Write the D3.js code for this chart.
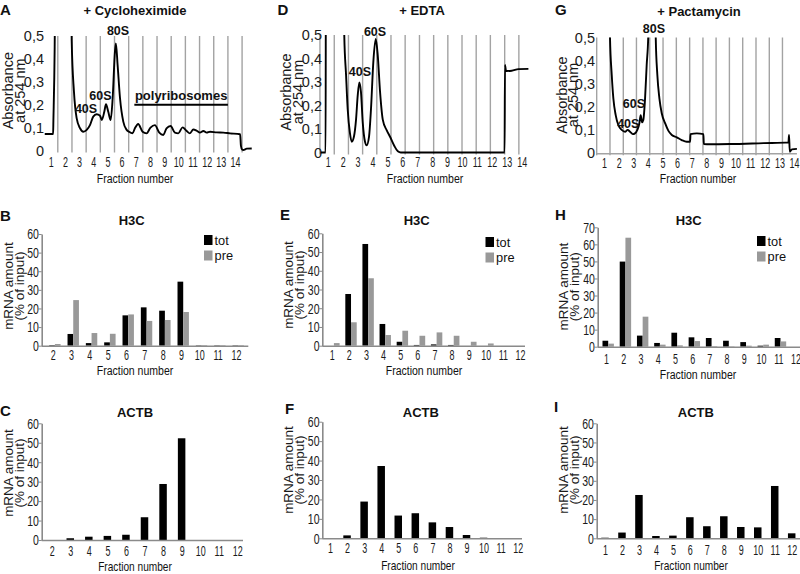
<!DOCTYPE html>
<html><head><meta charset="utf-8">
<script src="https://cdn.jsdelivr.net/npm/d3@7"></script>
<style>body{margin:0;background:#fff}svg{display:block}</style>
</head><body><svg id="c" width="800" height="574"></svg>
<script>
// ---------------- DATA ----------------
const absFractions = d3.range(1, 15);          // 1..14
const absTicks = [0, 0.1, 0.2, 0.3, 0.4, 0.5];

// Absorbance traces: [fraction position, absorbance at 254 nm]
const traceCyclo = [[0.58,0.072],[1.17,0.072],[1.19,0.13],[1.28,0.45],[1.34,0.9],[2.42,0.9],[2.48,0.48],[2.64,0.257],[2.83,0.141],[3.07,0.097],[3.30,0.082],[3.54,0.090],[3.77,0.111],[4.00,0.148],[4.24,0.158],[4.48,0.152],[4.60,0.133],[4.78,0.169],[4.90,0.202],[5.06,0.169],[5.23,0.133],[5.37,0.228],[5.53,0.431],[5.60,0.468],[5.72,0.373],[5.89,0.228],[6.12,0.126],[6.36,0.090],[6.52,0.082],[6.77,0.075],[6.94,0.097],[7.17,0.116],[7.48,0.082],[7.76,0.075],[8.04,0.100],[8.35,0.111],[8.66,0.078],[8.94,0.068],[9.17,0.097],[9.46,0.107],[9.76,0.078],[10.0,0.075],[10.3,0.101],[10.59,0.085],[10.82,0.075],[11.06,0.092],[11.29,0.087],[11.53,0.078],[11.77,0.085],[12.0,0.078],[12.24,0.082],[12.71,0.079],[13.18,0.078],[13.65,0.075],[14.36,0.071],[14.42,0.02],[14.5,0.004],[14.59,0.002],[14.83,0.008],[15.18,0.009]];
const traceEdta = [[0.53,0.0],[0.86,0.0],[0.88,0.9],[2.08,0.9],[2.11,0.5],[2.23,0.33],[2.34,0.184],[2.49,0.082],[2.61,0.046],[2.76,0.068],[2.90,0.141],[3.01,0.242],[3.12,0.298],[3.23,0.257],[3.35,0.126],[3.50,0.046],[3.61,0.031],[3.77,0.068],[3.90,0.184],[4.06,0.388],[4.22,0.483],[4.35,0.417],[4.51,0.257],[4.69,0.14],[4.95,0.095],[5.17,0.068],[5.45,0.03],[5.70,0.005],[5.90,0.0],[12.85,0.0],[12.88,0.373],[12.95,0.347],[13.33,0.348],[13.78,0.355],[14.45,0.356]];
const tracePacta = [[1.36,0.9],[1.41,0.5],[1.53,0.338],[1.64,0.237],[1.80,0.165],[1.98,0.122],[2.21,0.101],[2.44,0.093],[2.62,0.101],[2.78,0.093],[2.97,0.083],[3.12,0.086],[3.28,0.101],[3.42,0.130],[3.51,0.165],[3.60,0.134],[3.69,0.144],[3.81,0.237],[3.92,0.381],[4.03,0.51],[4.10,0.9],[4.48,0.9],[4.54,0.5],[4.65,0.338],[4.79,0.237],[4.95,0.173],[5.18,0.130],[5.40,0.098],[5.64,0.079],[5.98,0.069],[6.32,0.057],[6.66,0.050],[6.89,0.050],[6.92,0.083],[7.35,0.086],[7.80,0.083],[7.83,0.040],[8.26,0.039],[9.63,0.040],[11.91,0.044],[13.62,0.047],[13.66,0.079],[13.71,0.007],[13.86,0.017],[14.2,0.019]];

// Fraction boundaries (gradient fraction limits), in fraction units
const boundsCyclo = [1.5,2.5,3.5,4.5,5.5,6.5,7.5,8.5,9.5,10.5,11.5,12.5,13.5,14.5];
const boundsEdta = [0.48,1.44,2.39,3.34,4.29,5.24,6.19,7.15,8.10,9.05,10.0,10.95,11.9,12.86,13.81];
const boundsPacta = [0.5,1.41,2.32,3.22,4.13,5.04,5.95,6.86,7.77,8.67,9.58,10.49,11.40,12.31,13.21];

// Peak annotations: [label, fraction position, absorbance level]
const peaksCyclo = [['80S', 5.75, 0.52], ['60S', 4.51, 0.239], ['40S', 3.49, 0.182]];
const peaksEdta = [['60S', 4.17, 0.511], ['40S', 3.16, 0.343]];
const peaksPacta = [['80S', 4.42, 0.535], ['60S', 3.05, 0.213], ['40S', 2.66, 0.128]];
const polysomeSpan = [6.9, 13.5, 0.2];

// qPCR fractions
const fracCyclo = d3.range(2, 13);   // 2..12
const fracAll = d3.range(1, 13);     // 1..12

// H3C (tot / pre), % of input
const h3cTotCyclo = [0.3, 6.3, 1.4, 1.8, 16.3, 20.6, 18.8, 34.4, 0.2, 0.2, 0.2];
const h3cPreCyclo = [0.9, 24.5, 6.8, 6.4, 16.8, 13.3, 13.8, 18.1, 0.3, 0.3, 0.3];
const h3cTotEdta = [0, 27.6, 54.3, 11.6, 2.1, 0.4, 0.7, 0.4, 0, 0, 0, 0];
const h3cPreEdta = [1.4, 12.5, 36.0, 5.7, 8.0, 5.3, 7.1, 5.3, 2.1, 1.2, 0, 0];
const h3cTotPacta = [3.5, 49.9, 6.5, 2.2, 8.2, 5.5, 5.1, 3.5, 2.7, 0.6, 5.1, 0];
const h3cPrePacta = [1.8, 63.9, 17.6, 1.2, 0.8, 3.3, 0.3, 0.2, 0.6, 1.2, 3.1, 0];

// ACTB, % of input
const actbCyclo = [0, 0.9, 1.7, 2.1, 2.7, 11.7, 28.8, 52.3, 0, 0, 0];
const actbEdta = [0, 1.5, 18.9, 37.2, 11.7, 12.9, 8.2, 5.8, 1.7, 0.3, 0, 0];
const actbPacta = [0.3, 3.0, 22.6, 1.2, 1.4, 11.0, 6.3, 11.5, 5.9, 5.7, 27.3, 2.6];

const seriesNames = ['tot', 'pre'];
const seriesColors = ['#000000', '#999999'];

// ---------------- DRAWING ----------------
const svg = d3.select('#c');
const FONT = '"Liberation Sans", Arial, Helvetica, sans-serif';

function addText(g, s, x, y, o) {
  o = o || {};
  const sx = o.sx || 1;
  return g.append('text').attr('transform', `translate(${x},${y}) scale(${sx},1)`).text(s)
    .attr('font-family', FONT)
    .attr('font-size', o.size || 12)
    .attr('font-weight', o.weight || 'normal')
    .attr('text-anchor', o.anchor || 'start')
    .attr('dominant-baseline', o.baseline || 'auto')
    .attr('fill', '#111');
}
function rotLabel(g, s, bx, cy, size) {
  g.append('text').attr('transform', `translate(${bx},${cy}) scale(0.95,1) rotate(-90)`)
    .attr('text-anchor', 'middle').attr('font-family', FONT).attr('font-size', size)
    .attr('fill', '#1a1a1a').text(s);
}
function xTickLabels(g, x, vals, yc) {
  const ax = g.append('g').attr('transform', `translate(0,${yc})`)
    .call(d3.axisBottom(x).tickValues(vals).tickSize(0).tickPadding(0).tickFormat(d3.format('d')));
  ax.select('.domain').remove();
  ax.selectAll('text').attr('y', 0).attr('dy', '0.36em')
    .attr('font-family', FONT).attr('font-size', 14).attr('fill', '#1a1a1a')
    .attr('transform', 'scale(0.64,1)');
}

let clipId = 0;
function absPanel(c) {
  const g = svg.append('g');
  const x = d3.scaleLinear().domain([1, 14]).range([c.x1, c.x14]);
  const y = d3.scaleLinear().domain([0, 0.5]).range([c.y0, c.y5]);

  g.selectAll('line.bd').data(c.bounds).join('line')
    .attr('x1', d => x(d)).attr('x2', d => x(d))
    .attr('y1', y(0.5)).attr('y2', c.y0 + 2)
    .attr('stroke', '#a3a3a3').attr('stroke-width', 1.4);
  if (c.baseline) {
    g.append('line').attr('x1', x(c.bounds[0])).attr('x2', x(14.2))
      .attr('y1', c.y0 + 0.5).attr('y2', c.y0 + 0.5)
      .attr('stroke', '#a3a3a3').attr('stroke-width', 1.4);
  }

  const ya = g.append('g').attr('transform', `translate(${c.tickRight},0)`)
    .call(d3.axisLeft(y).tickValues(absTicks).tickSize(0).tickPadding(0)
      .tickFormat(d => d === 0 ? '0' : d3.format('.1f')(d).replace('.', ',')));
  ya.select('.domain').remove();
  ya.selectAll('text').attr('font-family', FONT).attr('font-size', 14.5).attr('fill', '#1a1a1a');

  xTickLabels(g, x, absFractions, c.xTickY);

  const id = 'clip' + (clipId++);
  g.append('clipPath').attr('id', id).append('rect')
    .attr('x', c.x1 - 30).attr('y', y(0.5)).attr('width', 260).attr('height', c.y0 - y(0.5) + 10);
  const line = d3.line().x(d => x(d[0])).y(d => y(d[1])).curve(d3.curveMonotoneX);
  g.append('path').datum(c.trace).attr('d', line).attr('clip-path', `url(#${id})`)
    .attr('fill', 'none').attr('stroke', '#000').attr('stroke-width', 1.9);

  addText(g, 'Fraction number', c.flX, c.flY, {size: 13.5, anchor: 'middle', sx: 0.78});
  rotLabel(g, 'Absorbance', c.yl1, c.ylY, 14.5);
  rotLabel(g, 'at 254 nm', c.yl2, c.ylY, 14.5);
  addText(g, c.title, c.titleX, c.titleY, {size: 13, weight: 'bold', anchor: 'middle'});
  addText(g, c.letter, c.letterX, c.letterY, {size: 15, weight: 'bold'});
  c.peaks.forEach(p => addText(g, p[0], x(p[1]), y(p[2]), {size: 12.5, weight: 'bold', anchor: 'middle', baseline: 'central'}));
  if (c.poly) {
    addText(g, 'polyribosomes', (x(c.poly[0]) + x(c.poly[1])) / 2, y(c.poly[2]) - 5, {size: 13, weight: 'bold', anchor: 'middle'});
    g.append('line').attr('x1', x(c.poly[0])).attr('x2', x(c.poly[1]))
      .attr('y1', y(c.poly[2])).attr('y2', y(c.poly[2])).attr('stroke', '#000').attr('stroke-width', 2);
  }
}

function barPanel(c) {
  const g = svg.append('g');
  const x = d3.scaleLinear().domain([c.fr[0], c.fr[c.fr.length - 1]]).range([c.xa, c.xb]);
  const y = d3.scaleLinear().domain([0, c.ymax]).range([c.y0, c.ytop]);

  const ya = g.append('g').attr('transform', `translate(${c.axX},0)`)
    .call(d3.axisLeft(y).tickValues(d3.range(0, c.ymax + 1, 10)).tickSize(3).tickSizeOuter(0).tickPadding(1).tickFormat(d3.format('d')));
  ya.select('.domain').attr('stroke', '#8a8a8a').attr('stroke-width', 1.6);
  ya.selectAll('.tick line').attr('stroke', '#8a8a8a');
  ya.selectAll('text').attr('font-family', FONT).attr('font-size', 15).attr('fill', '#1a1a1a')
    .attr('transform', 'scale(0.7,1)');

  xTickLabels(g, x, c.fr, c.tickY);

  if (c.series.length === 2) {
    const w = 5.7;
    c.series.forEach((vals, si) => {
      g.selectAll(null).data(c.fr).join('rect')
        .attr('x', d => x(d) + 2.2 - w + si * w).attr('width', w)
        .attr('y', (d, i) => y(vals[i])).attr('height', (d, i) => y(0) - y(vals[i]))
        .attr('fill', seriesColors[si]);
    });
    const lg = g.append('g');
    seriesNames.forEach((n, i) => {
      lg.append('rect').attr('x', c.legX).attr('y', c.legY + i * 15.5).attr('width', 8.5).attr('height', 10)
        .attr('fill', seriesColors[i]);
      addText(lg, n, c.legX + 10.5, c.legY + i * 15.5 + 9.5, {size: 13.5, sx: 0.95});
    });
  } else {
    const w = 7.5;
    g.selectAll(null).data(c.fr).join('rect')
      .attr('x', d => x(d) - w / 2).attr('width', w)
      .attr('y', (d, i) => y(c.series[0][i])).attr('height', (d, i) => y(0) - y(c.series[0][i]))
      .attr('fill', '#000');
  }

  g.append('line').attr('x1', c.axX).attr('x2', c.axEnd).attr('y1', c.y0 + 0.5).attr('y2', c.y0 + 0.5)
    .attr('stroke', '#8a8a8a').attr('stroke-width', 1.6);

  addText(g, 'Fraction number', c.flX, c.flY, {size: c.flSize || 13.5, anchor: 'middle', sx: 0.78});
  rotLabel(g, 'mRNA amount', c.yl1, c.ylY, 13.5);
  rotLabel(g, '(% of input)', c.yl2, c.ylY, 13.5);
  addText(g, c.title, c.titleX, c.titleY, {size: 13, weight: 'bold', anchor: 'middle'});
  addText(g, c.letter, c.letterX, c.letterY, {size: 15, weight: 'bold'});
}

// Absorbance profiles
absPanel({x1: 50.7, x14: 235, y0: 150.5, y5: 36, tickRight: 44, xTickY: 162, flX: 135, flY: 183,
  yl1: 13.3, yl2: 25, ylY: 90.7, title: '+ Cycloheximide', titleX: 135, titleY: 15, letter: 'A', letterX: 0, letterY: 14.5,
  bounds: boundsCyclo, trace: traceCyclo, peaks: peaksCyclo, poly: polysomeSpan});
absPanel({x1: 327.7, x14: 521.7, y0: 152.5, y5: 35, tickRight: 322, xTickY: 162, flX: 425, flY: 183,
  yl1: 291, yl2: 302.7, ylY: 92, title: '+ EDTA', titleX: 422, titleY: 15, letter: 'D', letterX: 277.5, letterY: 14.5,
  bounds: boundsEdta, trace: traceEdta, peaks: peaksEdta});
absPanel({x1: 604, x14: 794, y0: 153.3, y5: 37.5, tickRight: 595, xTickY: 162.5, flX: 698, flY: 183,
  yl1: 566.5, yl2: 578.2, ylY: 95, title: '+ Pactamycin', titleX: 699, titleY: 16, letter: 'G', letterX: 555, letterY: 14.5,
  bounds: boundsPacta, trace: tracePacta, peaks: peaksPacta, baseline: true});

// H3C
barPanel({fr: fracCyclo, series: [h3cTotCyclo, h3cPreCyclo], xa: 52.7, xb: 236, axX: 41.7, axEnd: 248.3,
  y0: 345.7, ytop: 234, ymax: 60, tickY: 355, flX: 135, flY: 375, yl1: 13.3, yl2: 24, ylY: 286,
  title: 'H3C', titleX: 131.7, titleY: 225.3, letter: 'B', letterX: 0, letterY: 221, legX: 204, legY: 235});
barPanel({fr: fracAll, series: [h3cTotEdta, h3cPreEdta], xa: 331.7, xb: 520, axX: 322.3, axEnd: 525,
  y0: 345.7, ytop: 233.3, ymax: 60, tickY: 355, flX: 424, flY: 375, yl1: 293.3, yl2: 304, ylY: 285,
  title: 'H3C', titleX: 416.7, titleY: 225, letter: 'E', letterX: 280, letterY: 219.5, legX: 485.5, legY: 237});
barPanel({fr: fracAll, series: [h3cTotPacta, h3cPrePacta], xa: 606, xb: 795.5, axX: 597.7, axEnd: 800,
  y0: 346.7, ytop: 227.3, ymax: 70, tickY: 359, flX: 698, flY: 379, yl1: 568.3, yl2: 579, ylY: 286.7,
  title: 'H3C', titleX: 688.7, titleY: 225.3, letter: 'H', letterX: 555, letterY: 220, legX: 757, legY: 236});

// ACTB
barPanel({fr: fracCyclo, series: [actbCyclo], xa: 51.7, xb: 237.3, axX: 41.7, axEnd: 243,
  y0: 540, ytop: 423.3, ymax: 60, tickY: 550.5, flX: 135, flY: 570.5, flSize: 13, yl1: 13.3, yl2: 24, ylY: 473,
  title: 'ACTB', titleX: 135, titleY: 416.7, letter: 'C', letterX: 0, letterY: 415.5});
barPanel({fr: fracAll, series: [actbEdta], xa: 330, xb: 517.7, axX: 322.3, axEnd: 522,
  y0: 538.3, ytop: 421.7, ymax: 60, tickY: 547.5, flX: 418, flY: 570, flSize: 13, yl1: 293.3, yl2: 304, ylY: 470,
  title: 'ACTB', titleX: 420.8, titleY: 416.7, letter: 'F', letterX: 285, letterY: 413.5});
barPanel({fr: fracAll, series: [actbPacta], xa: 605, xb: 791.7, axX: 596.7, axEnd: 800,
  y0: 538.3, ytop: 423.3, ymax: 60, tickY: 549.5, flX: 691, flY: 569.5, flSize: 13, yl1: 568.3, yl2: 579, ylY: 470,
  title: 'ACTB', titleX: 695.8, titleY: 416.7, letter: 'I', letterX: 554, letterY: 412});
</script></body></html>
